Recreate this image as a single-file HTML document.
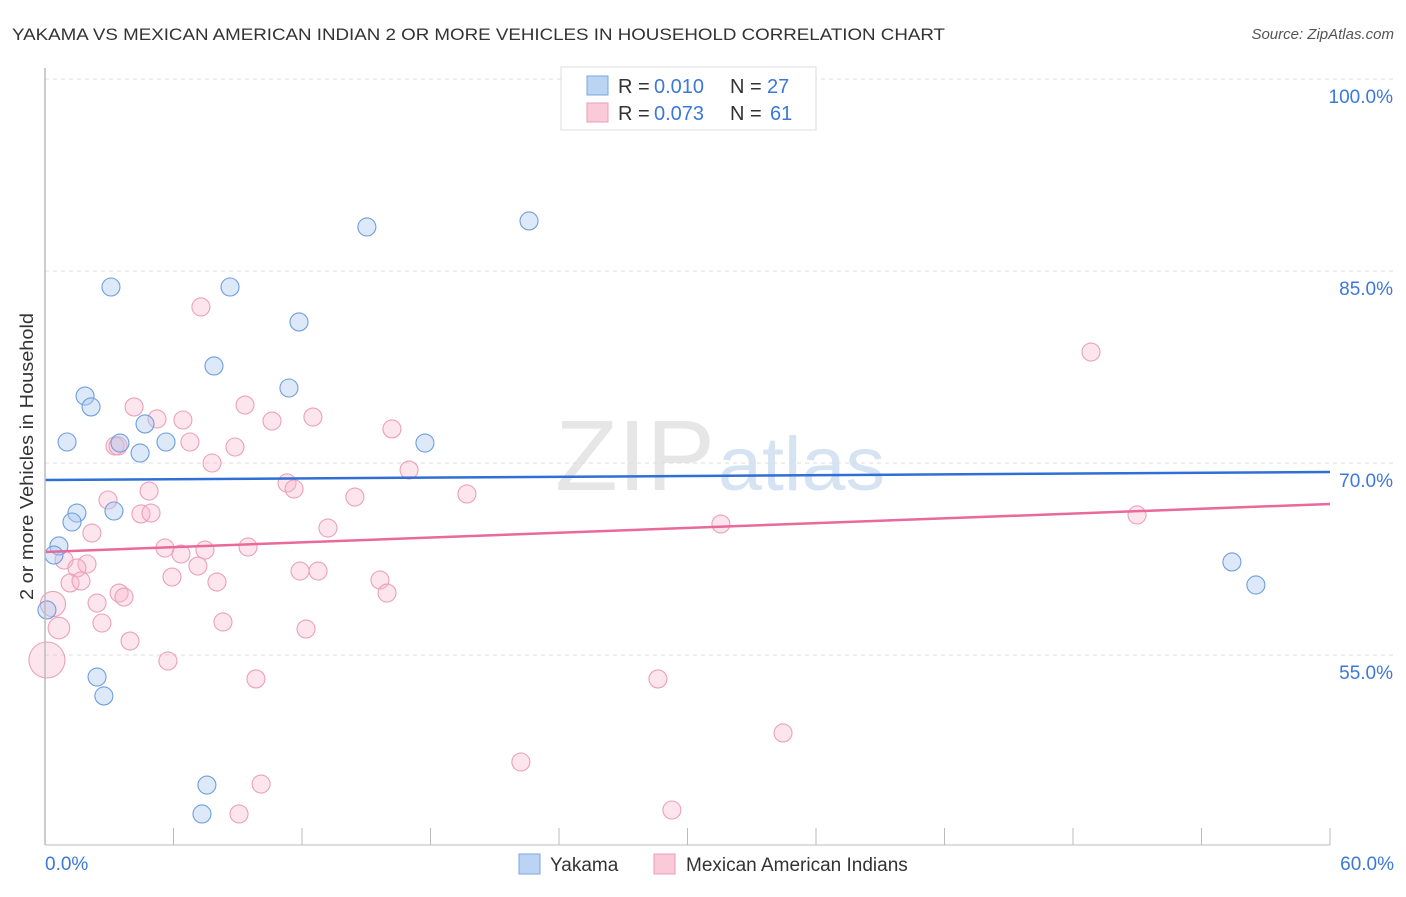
<!DOCTYPE html>
<html><head><meta charset="utf-8"><style>
body{margin:0;background:#fff;font-family:"Liberation Sans",sans-serif;}
svg text{font-family:"Liberation Sans",sans-serif;}
</style></head><body>
<svg id="c" width="1406" height="892" xmlns="http://www.w3.org/2000/svg">
<text x="12" y="40" font-size="17" fill="#333" textLength="933" lengthAdjust="spacingAndGlyphs">YAKAMA VS MEXICAN AMERICAN INDIAN 2 OR MORE VEHICLES IN HOUSEHOLD CORRELATION CHART</text>
<text x="1394" y="39" font-size="15" fill="#555" font-style="italic" text-anchor="end">Source: ZipAtlas.com</text>
<text x="33" y="600" font-size="18" fill="#333" textLength="287" lengthAdjust="spacingAndGlyphs" transform="rotate(-90 33 600)">2 or more Vehicles in Household</text>
<text x="555" y="490" font-size="100" fill="#e6e6e6" textLength="160" lengthAdjust="spacingAndGlyphs" font-family="Liberation Serif">ZIP</text>
<text x="718" y="490" font-size="76" fill="#d5e3f3" textLength="167" lengthAdjust="spacingAndGlyphs">atlas</text>
<g id="grid"></g><g id="marks"></g><g id="trend"></g>
<line x1="45" y1="68" x2="45" y2="845" stroke="#bbb" stroke-width="1.5"/>
<line x1="45" y1="845" x2="1330" y2="845" stroke="#bbb" stroke-width="1"/>
<text x="45" y="870" font-size="19" fill="#3b78d8">0.0%</text>
<text x="1394" y="870" font-size="19" fill="#3b78d8" text-anchor="end">60.0%</text>
<g>
<rect x="561" y="67" width="255" height="63" fill="#fff" stroke="#ddd"/>
<rect x="587" y="76" width="21" height="19" fill="#bcd4f4" stroke="#7aa6e0"/>
<rect x="587" y="103" width="21" height="19" fill="#fbcad9" stroke="#ee9cb6"/>
<text x="618" y="93" font-size="20" fill="#333">R =</text><text x="654" y="93" font-size="20" fill="#3b78d8">0.010</text>
<text x="730" y="93" font-size="20" fill="#333">N =</text><text x="767" y="93" font-size="20" fill="#3b78d8">27</text>
<text x="618" y="120" font-size="20" fill="#333">R =</text><text x="654" y="120" font-size="20" fill="#3b78d8">0.073</text>
<text x="730" y="120" font-size="20" fill="#333">N =</text><text x="770" y="120" font-size="20" fill="#3b78d8">61</text>
</g>
<g>
<rect x="519" y="854" width="21" height="20" fill="#bcd4f4" stroke="#7aa6e0"/>
<text x="550" y="871" font-size="19" fill="#333">Yakama</text>
<rect x="654" y="854" width="21" height="20" fill="#fbcad9" stroke="#ee9cb6"/>
<text x="686" y="871" font-size="19" fill="#333">Mexican American Indians</text>
</g>
</svg>
<script>
const yTicks=[100,85,70,55];
const xTicks=[0,6,12,18,24,30,36,42,48,54,60];
const yakX=[3.08,8.64,15.03,22.6,11.86,7.89,11.39,1.87,2.15,4.67,1.03,3.5,5.65,4.44,17.74,1.49,1.26,3.22,0.65,0.42,0.09,2.43,2.75,7.56,7.33,55.42,56.54];
const yakY=[83.75,83.75,88.44,88.91,81.02,77.58,75.86,75.23,74.38,73.05,71.64,71.56,71.64,70.78,71.56,66.09,65.39,66.25,63.52,62.81,58.52,53.28,51.8,44.84,42.58,62.27,60.47];
const mexX=[7.28,48.84,4.16,9.34,5.23,6.44,12.51,10.6,16.2,3.27,6.77,8.87,7.8,17.0,11.3,11.63,4.86,14.47,19.7,2.94,4.48,4.95,13.21,2.19,31.56,50.99,5.6,6.35,9.48,7.47,0.89,1.96,1.49,7.14,5.93,11.91,12.75,1.17,1.68,8.03,15.64,15.97,3.46,3.69,0.37,2.43,2.66,8.31,0.65,3.97,12.19,5.74,0.09,9.85,28.62,34.46,22.22,10.09,9.06,29.27,3.41];
const mexY=[82.19,78.67,74.38,74.53,73.44,73.36,73.59,73.28,72.66,71.33,71.64,71.25,70.0,69.45,68.44,67.97,67.81,67.34,67.58,67.11,66.02,66.09,64.92,64.53,65.23,65.94,63.36,62.89,63.44,63.2,62.42,62.11,61.8,61.95,61.09,61.56,61.56,60.63,60.78,60.7,60.86,59.84,59.84,59.53,58.98,59.06,57.5,57.58,57.11,56.09,57.03,54.53,54.61,53.13,53.13,48.91,46.64,44.92,42.58,42.89,71.33];
const mexSize=[1,1,1,1,1,1,1,1,1,1,1,1,1,1,1,1,1,1,1,1,1,1,1,1,1,1,1,1,1,1,1,1,1,1,1,1,1,1,1,1,1,1,1,1,1.4,1,1,1,1.2,1,1,1,2,1,1,1,1,1,1,1,1];
const trendStart=[68.67,63.05];
const trendEnd=[69.3,66.8];
const NS="http://www.w3.org/2000/svg";
const xs=v=>45+v/60*1285;
const ys=v=>79+(100-v)/15*192;
function mk(t,a,p){const e=document.createElementNS(NS,t);for(const k in a)e.setAttribute(k,a[k]);p.appendChild(e);return e;}
const grid=document.getElementById('grid'),marks=document.getElementById('marks'),trend=document.getElementById('trend');
yTicks.forEach(v=>{
 const l=mk('line',{x1:45,x2:1394,y1:ys(v),y2:ys(v),stroke:'#ddd','stroke-dasharray':'4,4'},grid);
 
 
 const t=mk('text',{x:1393,y:ys(v)+24,'font-size':19,fill:'#3b78d8','text-anchor':'end'},grid);
 t.textContent=v.toFixed(1)+'%';
 
 
});
xTicks.forEach(v=>{
 const l=mk('line',{x1:xs(v),x2:xs(v),y1:828,y2:845,stroke:'#bbb'},grid);
 
 
});
mexX.forEach((v,i)=>{
 const c=mk('circle',{cx:xs(v),cy:ys(mexY[i]),r:9*mexSize[i],fill:'rgba(248,180,202,0.35)',stroke:'#eba0ba','stroke-width':1.1},marks);
 
 
});
yakX.forEach((v,i)=>{
 const c=mk('circle',{cx:xs(v),cy:ys(yakY[i]),r:9,fill:'rgba(170,200,240,0.4)',stroke:'#6d9ee0','stroke-width':1.1},marks);
 
 
});
const cols=['#2f6fd6','#e8699a'];
trendStart.forEach((v,i)=>{
 const l=mk('line',{x1:xs(0),x2:xs(60),y1:ys(v),y2:ys(trendEnd[i]),stroke:cols[i],'stroke-width':2.5},trend);
 
 
});
</script>
</body></html>
